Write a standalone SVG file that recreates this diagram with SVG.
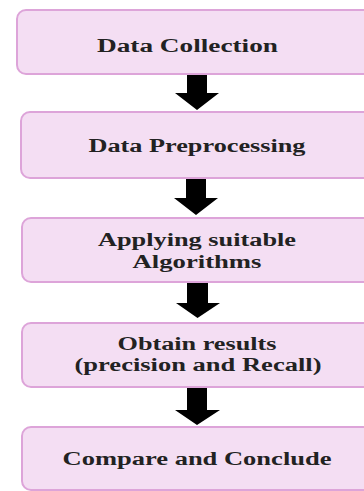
<svg xmlns="http://www.w3.org/2000/svg" width="364" height="491" viewBox="0 0 364 491">
<style>
.box{fill:#f4def3;stroke:#dda4d9;stroke-width:2}
.t{font-family:"Liberation Serif","Times New Roman",serif;font-weight:bold;font-size:18px;fill:#222;text-anchor:middle}
.arr{fill:#000}
</style>
<rect width="364" height="491" fill="#fff"/>
<g id="n1"><rect class="box" x="17" y="10" width="370" height="64" rx="9"/><text class="t" x="187.5" y="52" textLength="181" lengthAdjust="spacingAndGlyphs">Data Collection</text></g>
<g id="n2"><rect class="box" x="21" y="112" width="370" height="66" rx="9"/><text class="t" x="197" y="152" textLength="217" lengthAdjust="spacingAndGlyphs">Data Preprocessing</text></g>
<g id="n3"><rect class="box" x="22" y="218" width="370" height="64" rx="9"/><text class="t" x="197" y="246" textLength="198" lengthAdjust="spacingAndGlyphs">Applying suitable</text><text class="t" x="197" y="268" textLength="129" lengthAdjust="spacingAndGlyphs">Algorithms</text></g>
<g id="n4"><rect class="box" x="22" y="323" width="370" height="64" rx="9"/><text class="t" x="197" y="350" textLength="159" lengthAdjust="spacingAndGlyphs">Obtain results</text><text class="t" x="198" y="371" textLength="247" lengthAdjust="spacingAndGlyphs">(precision and Recall)</text></g>
<g id="n5"><rect class="box" x="22" y="427" width="370" height="63" rx="9"/><text class="t" x="197" y="465" textLength="269" lengthAdjust="spacingAndGlyphs">Compare and Conclude</text></g>
<g id="connectors">
<path class="arr" d="M187 75 H207 V93 H219 L197 110 L175 93 H187 Z"/>
<path class="arr" d="M186 179 H206 V198 H218 L196 215 L174 198 H186 Z"/>
<path class="arr" d="M187 283 H208 V303 H220 L197.5 318 L176 303 H187 Z"/>
<path class="arr" d="M187 388 H207 V410 H220 L197 425 L175 410 H187 Z"/>
</g>
</svg>
